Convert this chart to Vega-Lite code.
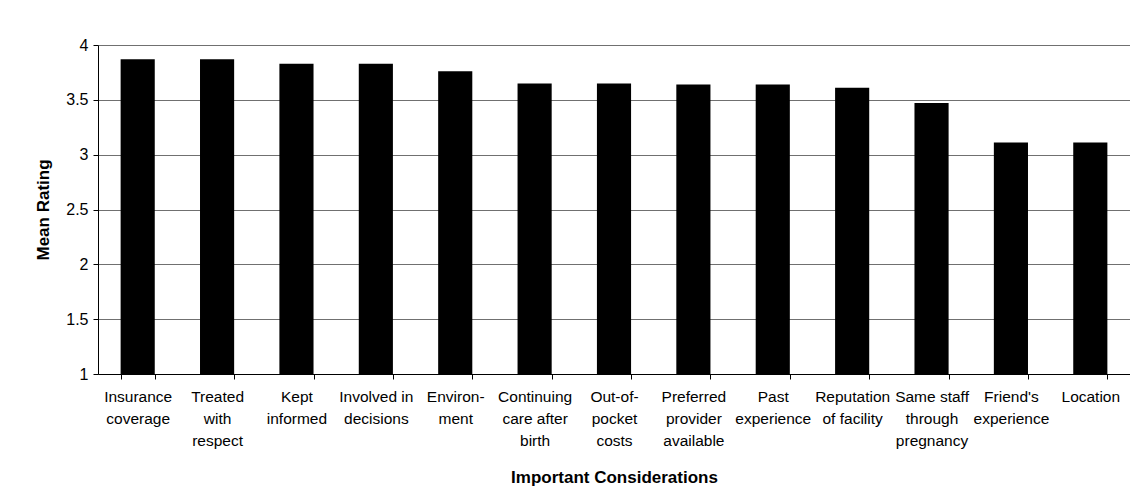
{
  "$schema": "https://vega.github.io/schema/vega-lite/v6.json",
  "width": 1032,
  "height": 329,
  "autosize": "none",
  "padding": {"left": 98, "top": 45, "right": 0, "bottom": 128},
  "background": "white",
  "data": {
    "values": [
      {"consideration": "Insurance\ncoverage", "rating": 3.87},
      {"consideration": "Treated\nwith\nrespect", "rating": 3.87},
      {"consideration": "Kept\ninformed", "rating": 3.83},
      {"consideration": "Involved in\ndecisions", "rating": 3.83},
      {"consideration": "Environ-\nment", "rating": 3.76},
      {"consideration": "Continuing\ncare after\nbirth", "rating": 3.65},
      {"consideration": "Out-of-\npocket\ncosts", "rating": 3.65},
      {"consideration": "Preferred\nprovider\navailable", "rating": 3.64},
      {"consideration": "Past\nexperience", "rating": 3.64},
      {"consideration": "Reputation\nof facility", "rating": 3.61},
      {"consideration": "Same staff\nthrough\npregnancy", "rating": 3.47},
      {"consideration": "Friend's\nexperience", "rating": 3.11},
      {"consideration": "Location", "rating": 3.11}
    ]
  },
  "mark": {"type": "bar", "color": "#000000"},
  "encoding": {
    "x": {
      "field": "consideration",
      "type": "nominal",
      "sort": null,
      "scale": {"paddingInner": 0.57, "paddingOuter": 0.285},
      "axis": {
        "title": "Important Considerations",
        "labelAngle": 0,
        "labelExpr": "split(datum.label, '\\n')",
        "labelLineHeight": 22,
        "labelFontSize": 15.5,
        "labelPadding": 10,
        "labelLimit": 200,
        "tickBand": "extent",
        "tickSize": 5,
        "titleFontSize": 17,
        "titlePadding": 21,
        "grid": false
      }
    },
    "y": {
      "field": "rating",
      "type": "quantitative",
      "scale": {"domain": [1, 4], "zero": false, "nice": false},
      "axis": {
        "title": "Mean Rating",
        "values": [1, 1.5, 2, 2.5, 3, 3.5, 4],
        "format": "~g",
        "labelFontSize": 16,
        "labelPadding": 5,
        "tickSize": 5,
        "titleFontSize": 17,
        "titlePadding": 13,
        "grid": true,
        "gridColor": "#707070",
        "gridWidth": 1
      }
    },
    "y2": {"datum": 1}
  },
  "config": {
    "font": "Liberation Sans",
    "view": {"stroke": null},
    "axis": {
      "domainColor": "#000000",
      "tickColor": "#000000",
      "labelColor": "#000000",
      "titleColor": "#000000",
      "labelFont": "Liberation Sans",
      "titleFont": "Liberation Sans",
      "titleFontWeight": "bold",
      "domainWidth": 1,
      "tickWidth": 1
    }
  }
}
